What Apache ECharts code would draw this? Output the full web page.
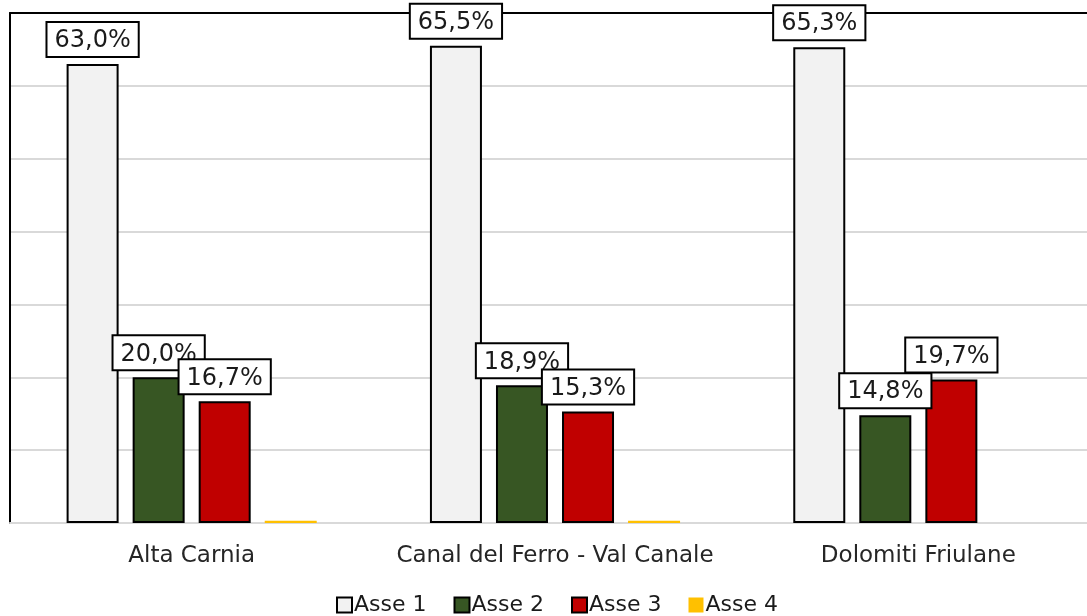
<!DOCTYPE html>
<html>
<head>
<meta charset="utf-8">
<script src="https://cdn.jsdelivr.net/npm/echarts@6/dist/echarts.min.js"></script>
<style>
  html, body { margin: 0; padding: 0; background: #fff; overflow: hidden; }
  #chart { width: 1100px; height: 616px; }
</style>
</head>
<body>
<div id="chart"></div>
<script>
// Share of resources by axis (Asse) for each area
const categories = ['Alta Carnia', 'Canal del Ferro - Val Canale', 'Dolomiti Friulane'];
const seriesNames = ['Asse 1', 'Asse 2', 'Asse 3', 'Asse 4'];
const asse1 = [63.0, 65.5, 65.3];
const asse2 = [20.0, 18.9, 14.8];
const asse3 = [16.7, 15.3, 19.7];
const asse4 = [0.3, 0.3, 0];
const yTicks = { min: 0, max: 70, interval: 10 };

const FONT = '"DejaVu Sans", Verdana, sans-serif';
const colors = ['#f2f2f2', '#375623', '#c00000', '#ffc000'];
const values = [asse1, asse2, asse3, asse4];

const pct = v => v.toFixed(1).replace('.', ',') + '%';

const labelStyle = {
  show: true,
  position: 'top',
  distance: 8,
  formatter: p => pct(p.value),
  fontFamily: FONT,
  fontSize: 24,
  color: '#1a1a1a',
  backgroundColor: '#ffffff',
  borderColor: '#000000',
  borderWidth: 2,
  padding: [6, 7, 3, 7]
};

const series = seriesNames.map((name, i) => ({
  name: name,
  type: 'bar',
  data: values[i],
  barWidth: 52,
  barGap: '27%',
  itemStyle: {
    color: colors[i],
    borderColor: i === 3 ? colors[i] : '#000000',
    borderWidth: i === 3 ? 0 : 2
  },
  label: i === 3 ? { show: false } : labelStyle,
  emphasis: { disabled: true }
}));

const chart = echarts.init(document.getElementById('chart'), null, { renderer: 'canvas' });
chart.setOption({
  animation: false,
  backgroundColor: '#ffffff',
  grid: { left: 10, right: 0, top: 13, bottom: 93, containLabel: false },
  xAxis: [
    {
      type: 'category',
      data: categories,
      position: 'bottom',
      axisLine: { show: true, lineStyle: { color: '#d9d9d9', width: 2 } },
      axisTick: { show: false },
      axisLabel: { interval: 0, fontFamily: FONT, fontSize: 23, color: '#262626', margin: 22 }
    },
    {
      type: 'category',
      data: categories,
      position: 'top',
      axisLine: { show: true, lineStyle: { color: '#000000', width: 2 } },
      axisTick: { show: false },
      axisLabel: { show: false }
    }
  ],
  yAxis: {
    type: 'value',
    min: yTicks.min,
    max: yTicks.max,
    interval: yTicks.interval,
    axisLine: { show: true, lineStyle: { color: '#000000', width: 2 } },
    axisTick: { show: false },
    axisLabel: { show: false },
    splitLine: { show: true, lineStyle: { color: '#d9d9d9', width: 2 } }
  },
  legend: {
    data: seriesNames,
    left: 331,
    top: 589,
    itemWidth: 15,
    itemHeight: 15,
    itemGap: 27,
    icon: 'rect',
    textStyle: { fontFamily: FONT, fontSize: 22, color: '#1a1a1a', padding: [0, 0, 0, -3] }
  },
  series: series
});
</script>
</body>
</html>
